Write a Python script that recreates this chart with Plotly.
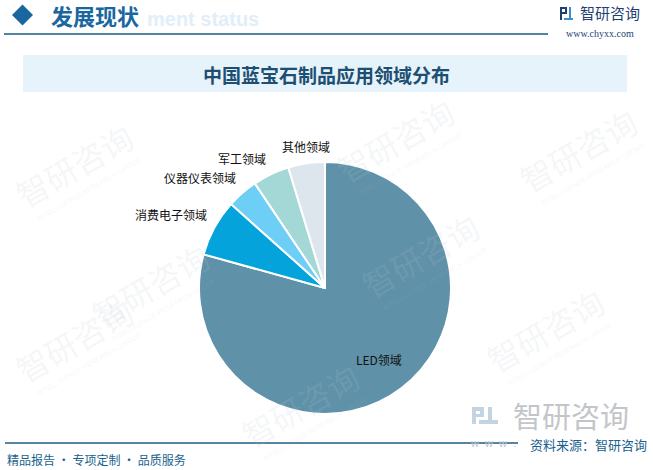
import math
import plotly.graph_objects as go

W, H = 653, 470

# data (share of sapphire product applications, %)
fields = ["LED领域", "消费电子领域", "仪器仪表领域", "军工领域", "其他领域"]
shares = [79.3, 7.3, 4.0, 4.7, 4.7]
slice_colors = ["#5f91a8", "#04a3dc", "#6dcff6", "#a4d8d7", "#dde6ed"]
label_inside = [True, False, False, False, False]

title = "中国蓝宝石制品应用领域分布"
header = "发展现状"
header_en = "ment status"   # only the tail of "Development status" shows past the header
source = "资料来源：智研咨询"
slogan = "精品报告 · 专项定制 · 品质服务"
brand = "智研咨询"
brand_en = "INTELLIGENCE RESEARCH GROUP"
site = "www.chyxx.com"

DARK = "#1d5b86"
CJK = "Noto Sans CJK SC"


def px(x, y):
    # pixel coords -> paper coords
    return x / W, 1 - y / H


def note(x, y, text, size, color, family=CJK, xa="center", ya="middle", **kw):
    px_, py_ = px(x, y)
    return dict(x=px_, y=py_, xref="paper", yref="paper", text=text, showarrow=False,
                xanchor=xa, yanchor=ya, font=dict(family=family, size=size, color=color), **kw)


def box(a, b, c, d, col, **kw):
    xa, ya = px(a, b)
    xb, yb = px(c, d)
    return dict(type="rect", xref="paper", yref="paper", x0=xa, x1=xb, y0=ya, y1=yb,
                fillcolor=col, line=dict(width=0), **kw)


# pie centre / radius in pixels
cx, cy, r = 325, 288, 126

fig = go.Figure()
fig.add_trace(go.Pie(
    labels=fields, values=shares,
    sort=False, direction="clockwise", rotation=0,
    marker=dict(colors=slice_colors, line=dict(color="white", width=2)),
    textinfo="none",
    hoverinfo="label+percent",
    domain=dict(x=[(cx - r) / W, (cx + r) / W], y=[1 - (cy + r) / H, 1 - (cy - r) / H]),
    showlegend=False,
))

shapes = []
annotations = []

# faint diagonal watermarks (drawn first so labels sit above them)
wm = "rgba(185,198,210,0.16)"
for wx, wy in [(74, 165), (395, 140), (578, 150), (74, 340),
               (150, 285), (545, 330), (300, 405), (420, 255)]:
    annotations.append(note(wx, wy, brand, 32, wm, textangle=-30))
    annotations.append(note(wx + 14, wy + 24, brand_en, 7, wm, family="Liberation Sans",
                            textangle=-30))

# slice labels, placed from the mid-angle of each slice
total = sum(shares)
acc = 0
for name, v, inside in zip(fields, shares, label_inside):
    mid = (acc + v / 2) / total * 2 * math.pi
    acc += v
    s, c = math.sin(mid), math.cos(mid)
    if inside:
        annotations.append(note(cx + 0.71 * r * s, cy - 0.71 * r * c, name, 12, "#111111"))
    else:
        xa = "center" if abs(s) < 0.2 else ("right" if s < 0 else "left")
        ya = "bottom" if c > 0 else "top"
        annotations.append(note(cx + (r + 6) * s, cy - (r + 6) * c, name, 12, "#111111",
                                xa=xa, ya=ya))

# header
shapes.append(dict(type="path", xref="paper", yref="paper",
                   path="M {} {} L {} {} L {} {} L {} {} Z".format(
                       *px(12, 15), *px(22.5, 4.5), *px(33, 15), *px(22.5, 25.5)),
                   fillcolor="#1a67a0", line=dict(width=0)))
annotations.append(note(145, 19, "<b>" + header_en + "</b>", 20, "#e2eef8",
                        family="Liberation Sans", xa="left"))
annotations.append(note(49, 15, "<b>" + header + "</b>", 22, "#1a67a0", xa="left"))
shapes.append(dict(type="line", xref="paper", yref="paper",
                   x0=4 / W, x1=548 / W, y0=1 - 34 / H, y1=1 - 34 / H,
                   line=dict(color=DARK, width=1.5)))

# top-right logo
for (a, b, c, d, col) in [(560, 7, 567, 9, "#1f3f73"), (560, 7, 562, 20, "#1f3f73"),
                          (560, 12, 567, 14, "#1f3f73"), (565, 7, 567, 14, "#1f3f73"),
                          (569, 7, 571, 20, "#3b8fd0"), (564, 18, 573, 20, "#3b8fd0")]:
    shapes.append(box(a, b, c, d, col))
annotations.append(note(578, 13, brand, 15, "#1f3f73", xa="left"))
annotations.append(note(600, 33, site, 10, "#1f3f73", family="Liberation Serif"))

# title box
shapes.append(box(23, 55, 627, 92, "#e6f3fb", layer="below"))
annotations.append(note(326, 74, "<b>" + title + "</b>", 19, "#1c4f72"))

# bottom-right big watermark logo
for (a, b, c, d) in [(472, 407, 484, 411), (472, 407, 476, 424), (472, 414, 484, 417),
                     (480, 407, 484, 417), (488, 407, 492, 424), (479, 420, 498, 424)]:
    shapes.append(box(a, b, c, d, "#c3d3e2"))
annotations.append(note(571, 415, brand, 29, "#c3c6c9"))
annotations.append(note(468, 443, "w  w  w  .", 11, "#c3c6c9", family="Liberation Sans",
                        xa="left"))

# footer
shapes.append(dict(type="line", xref="paper", yref="paper",
                   x0=5 / W, x1=518 / W, y0=1 - 443 / H, y1=1 - 443 / H,
                   line=dict(color=DARK, width=1.5)))
annotations.append(note(649, 444, source, 13, "#1a5f8e", xa="right"))
annotations.append(note(5, 459, slogan, 12, "#1a5f8e", xa="left"))

fig.update_layout(
    width=W, height=H,
    margin=dict(l=0, r=0, t=0, b=0),
    paper_bgcolor="white", plot_bgcolor="white",
    shapes=shapes, annotations=annotations,
)

fig.write_html("out.html", config={"displayModeBar": False},
               post_script="document.body.style.margin='0';")
